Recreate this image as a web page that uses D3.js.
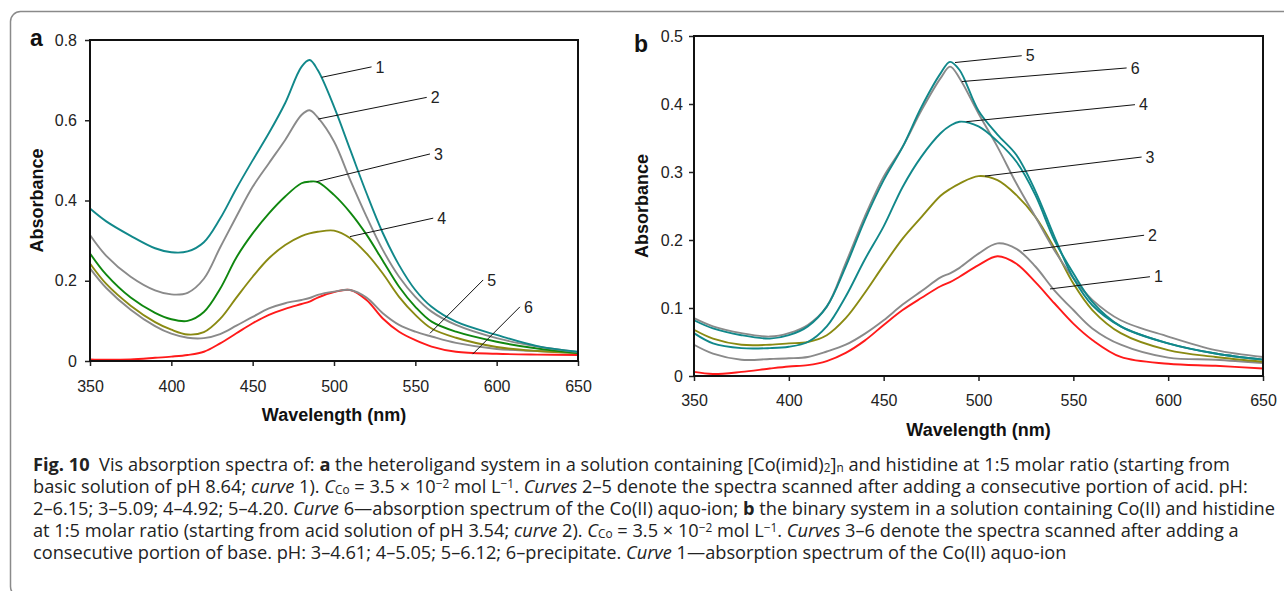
<!DOCTYPE html>
<html>
<head>
<meta charset="utf-8">
<script src="https://cdn.jsdelivr.net/npm/d3@7"></script>
<style>
  body { margin: 0; background: #fff; }
  svg { display: block; }
  .domain { display: none; }
</style>
</head>
<body>
<div id="chart"></div>
<script>
// wavelength grid (nm), shared by all curves
const wavelengths = [350,360,375,390,400,410,420,430,440,450,460,470,480,485,490,500,510,520,530,540,550,560,575,600,625,650];

// panel a – heteroligand system
const a_curve1 = [0.380,0.348,0.312,0.281,0.271,0.273,0.296,0.355,0.430,0.500,0.568,0.643,0.733,0.750,0.725,0.634,0.526,0.418,0.319,0.239,0.177,0.135,0.098,0.065,0.037,0.023];
const a_curve2 = [0.314,0.262,0.210,0.176,0.166,0.170,0.205,0.283,0.360,0.434,0.493,0.551,0.613,0.625,0.607,0.547,0.451,0.360,0.277,0.210,0.160,0.123,0.090,0.057,0.036,0.022];
const a_curve3 = [0.268,0.215,0.158,0.120,0.104,0.100,0.122,0.180,0.258,0.318,0.368,0.410,0.443,0.447,0.446,0.414,0.370,0.315,0.250,0.185,0.135,0.098,0.073,0.048,0.031,0.020];
const a_curve4 = [0.243,0.192,0.138,0.097,0.078,0.066,0.072,0.105,0.158,0.210,0.256,0.289,0.311,0.318,0.322,0.325,0.306,0.268,0.218,0.160,0.115,0.081,0.058,0.035,0.025,0.020];
const a_curve5 = [0.231,0.182,0.128,0.087,0.068,0.058,0.057,0.067,0.088,0.110,0.131,0.144,0.152,0.157,0.165,0.173,0.177,0.158,0.119,0.090,0.073,0.061,0.045,0.030,0.025,0.020];
const a_curve6 = [0.004,0.003,0.004,0.008,0.011,0.015,0.023,0.044,0.069,0.094,0.115,0.130,0.142,0.148,0.158,0.172,0.177,0.152,0.106,0.073,0.052,0.036,0.023,0.018,0.016,0.015];

// panel b – binary system
const b_curve1 = [0.006,0.003,0.006,0.011,0.014,0.016,0.022,0.034,0.052,0.075,0.097,0.115,0.132,0.138,0.146,0.163,0.176,0.165,0.138,0.107,0.077,0.053,0.028,0.018,0.015,0.011];
const b_curve2 = [0.046,0.033,0.024,0.025,0.026,0.028,0.036,0.046,0.062,0.082,0.105,0.125,0.145,0.151,0.159,0.180,0.195,0.187,0.161,0.126,0.097,0.070,0.046,0.027,0.024,0.019];
const b_curve3 = [0.068,0.055,0.046,0.046,0.048,0.050,0.060,0.085,0.122,0.163,0.202,0.234,0.265,0.275,0.283,0.294,0.288,0.266,0.234,0.188,0.136,0.097,0.063,0.038,0.028,0.021];
const b_curve4 = [0.063,0.048,0.041,0.041,0.043,0.050,0.073,0.117,0.171,0.220,0.278,0.323,0.357,0.368,0.374,0.367,0.345,0.315,0.266,0.200,0.151,0.109,0.073,0.048,0.033,0.024];
const b_curve5 = [0.082,0.070,0.060,0.055,0.060,0.073,0.102,0.161,0.229,0.288,0.337,0.396,0.445,0.462,0.450,0.390,0.355,0.325,0.272,0.205,0.144,0.104,0.073,0.048,0.033,0.024];
const b_curve6 = [0.085,0.073,0.063,0.058,0.063,0.075,0.102,0.166,0.234,0.293,0.337,0.391,0.438,0.455,0.438,0.386,0.337,0.283,0.234,0.185,0.144,0.112,0.082,0.058,0.038,0.028];

// ticks
const x_ticks = [350,400,450,500,550,600,650];
const a_y_ticks = [0,0.2,0.4,0.6,0.8];
const b_y_ticks = [0,0.1,0.2,0.3,0.4,0.5];

// curve labels: name, point on curve [nm, A], end of leader [nm, A]
const a_labels = [
  ["1", [492.4,0.707], [523.1,0.733]],
  ["2", [490.3,0.603], [557.0,0.657]],
  ["3", [489.3,0.447], [559.0,0.516]],
  ["4", [509.8,0.310], [561.0,0.356]],
  ["5", [559.0,0.069], [591.7,0.202]],
  ["6", [585.2,0.017], [614.3,0.135]]
];
const b_labels = [
  ["5", [487.6,0.461], [522.8,0.471]],
  ["6", [491.2,0.433], [578.1,0.453]],
  ["4", [493.6,0.374], [582.5,0.399]],
  ["3", [503.4,0.294], [586.0,0.322]],
  ["2", [523.6,0.184], [587.3,0.207]],
  ["1", [537.7,0.128], [590.4,0.146]]
];

const TEAL = '#11888a', GRAY = '#8a8a8a', GREEN = '#0f870f', OLIVE = '#8a8a12', RED = '#ff1a1a';
const ARIAL = '"Liberation Sans", Arial, sans-serif';

const svg = d3.select('#chart').append('svg')
  .attr('width', 1284).attr('height', 591);

// outer figure frame
svg.append('rect')
  .attr('x', 10.5).attr('y', 11.5).attr('width', 1300).attr('height', 585)
  .attr('rx', 10).attr('fill', 'none').attr('stroke', '#8a8a8a').attr('stroke-width', 1.5);

function style_axis(sel){
  sel.selectAll('.tick text')
    .style('font-family', ARIAL).style('font-size', '16px').style('fill', '#222');
  sel.selectAll('.tick line').style('stroke', '#222').style('stroke-width', 1.5);
}

function draw_panel(p){
  const x = d3.scaleLinear().domain([350, 650]).range([p.left, p.right]);
  const y = d3.scaleLinear().domain([0, p.ymax]).range([p.bottom, p.top]);

  const g = svg.append('g');

  const x_axis = d3.axisBottom(x).tickValues(x_ticks).tickSizeInner(5).tickSizeOuter(0).tickPadding(p.xpad);
  g.append('g').attr('transform', `translate(0,${p.bottom})`).call(x_axis).call(style_axis);
  const y_axis = d3.axisLeft(y).tickValues(p.yticks).tickFormat(d => d === 0 ? '0' : d3.format('.1f')(d))
    .tickSizeInner(5).tickSizeOuter(0).tickPadding(p.ypad);
  g.append('g').attr('transform', `translate(${p.left},0)`).call(y_axis).call(style_axis);

  const line = d3.line().x((d, i) => x(wavelengths[i])).y(d => y(d)).curve(d3.curveCatmullRom.alpha(0.5));
  p.series.forEach(s => {
    g.append('path').datum(s.values)
      .attr('d', line).attr('fill', 'none')
      .attr('stroke', s.color).attr('stroke-width', 1.9);
  });

  // plot frame
  g.append('rect')
    .attr('x', p.left).attr('y', p.top)
    .attr('width', p.right - p.left).attr('height', p.bottom - p.top)
    .attr('fill', 'none').attr('stroke', '#111').attr('stroke-width', 2);

  // leaders + numbers
  p.labels.forEach(([name, from, to]) => {
    g.append('line')
      .attr('x1', x(from[0])).attr('y1', y(from[1]))
      .attr('x2', x(to[0])).attr('y2', y(to[1]))
      .attr('stroke', '#111').attr('stroke-width', 1);
    g.append('text')
      .attr('x', x(to[0]) + 4).attr('y', y(to[1]))
      .attr('dy', '0.36em')
      .style('font-family', ARIAL)
      .style('font-size', '16px').style('fill', '#222')
      .text(name);
  });

  // axis titles
  g.append('text')
    .attr('transform', `translate(${p.ytitle_x},${(p.top + p.bottom) / 2}) rotate(-90)`)
    .attr('text-anchor', 'middle')
    .style('font-family', ARIAL)
    .style('font-size', '18px').style('font-weight', 'bold').style('fill', '#111')
    .text('Absorbance');
  g.append('text')
    .attr('x', (p.left + p.right) / 2).attr('y', p.xtitle_y)
    .attr('text-anchor', 'middle')
    .style('font-family', ARIAL)
    .style('font-size', '18px').style('font-weight', 'bold').style('fill', '#111')
    .text('Wavelength (nm)');

  // panel letter
  g.append('text')
    .attr('x', p.letter[0]).attr('y', p.letter[1])
    .style('font-family', ARIAL)
    .style('font-size', '23px').style('font-weight', 'bold').style('fill', '#111')
    .text(p.name);
}

draw_panel({
  name: 'a', left: 90, right: 578, top: 40, bottom: 361, ymax: 0.8,
  yticks: a_y_ticks, xpad: 15, ypad: 8,
  ytitle_x: 43, xtitle_y: 421, letter: [30, 46],
  series: [
    {values: a_curve6, color: RED},
    {values: a_curve5, color: GRAY},
    {values: a_curve4, color: OLIVE},
    {values: a_curve3, color: GREEN},
    {values: a_curve2, color: GRAY},
    {values: a_curve1, color: TEAL}
  ],
  labels: a_labels
});

draw_panel({
  name: 'b', left: 694, right: 1263, top: 36, bottom: 376, ymax: 0.5,
  yticks: b_y_ticks, xpad: 14, ypad: 6,
  ytitle_x: 648, xtitle_y: 436, letter: [634, 52],
  series: [
    {values: b_curve1, color: RED},
    {values: b_curve2, color: GRAY},
    {values: b_curve3, color: OLIVE},
    {values: b_curve6, color: GRAY},
    {values: b_curve4, color: TEAL},
    {values: b_curve5, color: TEAL}
  ],
  labels: b_labels
});

// caption: each line is a list of [text, style]; style: b bold, i italic, sub, sup
const caption_lines = [
  [['Fig. 10','b'],['  Vis absorption spectra of: '],['a','b'],[' the heteroligand system in a solution containing [Co(imid)'],['2','sub'],[']'],['n','sub'],[' and histidine at 1:5 molar ratio (starting from']],
  [['basic solution of pH 8.64; '],['curve','i'],[' 1). '],['C','i'],['Co','sub'],[' = 3.5 × 10'],['−2','sup'],[' mol L'],['−1','sup'],['. '],['Curves','i'],[' 2–5 denote the spectra scanned after adding a consecutive portion of acid. pH:']],
  [['2–6.15; 3–5.09; 4–4.92; 5–4.20. '],['Curve','i'],[' 6—absorption spectrum of the Co(II) aquo-ion; '],['b','b'],[' the binary system in a solution containing Co(II) and histidine']],
  [['at 1:5 molar ratio (starting from acid solution of pH 3.54; '],['curve','i'],[' 2). '],['C','i'],['Co','sub'],[' = 3.5 × 10'],['−2','sup'],[' mol L'],['−1','sup'],['. '],['Curves','i'],[' 3–6 denote the spectra scanned after adding a']],
  [['consecutive portion of base. pH: 3–4.61; 4–5.05; 5–6.12; 6–precipitate. '],['Curve','i'],[' 1—absorption spectrum of the Co(II) aquo-ion']]
];

const cap = svg.append('g')
  .style('font-family', '"Open Sans", "Noto Sans", sans-serif')
  .style('font-size', '16px').style('fill', '#222');

const cap_texts = caption_lines.map((segs, i) => {
  const t = cap.append('text').attr('x', 33).attr('y', 471 + i * 22).style('white-space', 'pre');
  let shift = 0;   // current vertical offset in px from baseline
  segs.forEach(([txt, st]) => {
    const ts = t.append('tspan').text(txt);
    let target = 0;
    if (st === 'b') ts.style('font-weight', 'bold');
    if (st === 'i') ts.style('font-style', 'italic');
    if (st === 'sub') { ts.style('font-size', '0.65em'); target = 1; }
    if (st === 'sup') { ts.style('font-size', '0.65em'); target = -5; }
    if (target !== shift) { ts.attr('dy', target - shift); shift = target; }
  });
  return t;
});

// fit caption width to the printed line (line 3 ends near the frame)
const w3 = cap_texts[2].node().getBBox().width;
cap.style('font-size', (16 * 1243 / w3) + 'px');
</script>
</body>
</html>
